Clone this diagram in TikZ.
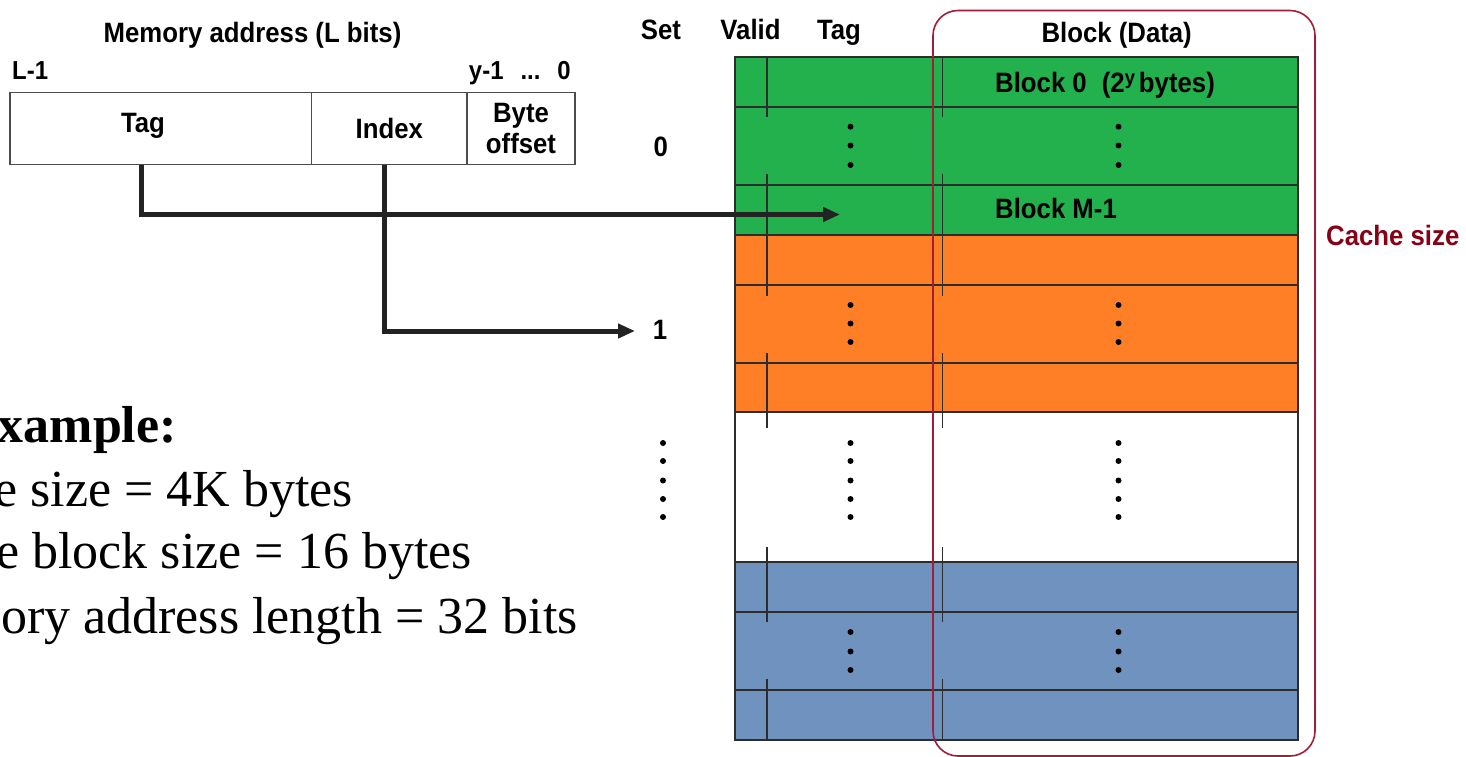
\documentclass[tikz,border=0pt]{standalone}
\usepackage{fontspec}
\setmainfont{Liberation Serif}
\newfontfamily\labfont[FakeStretch=0.92]{Liberation Sans}
\usetikzlibrary{arrows.meta}
\definecolor{pgreen}{RGB}{34,177,76}
\definecolor{porange}{RGB}{255,127,39}
\definecolor{pblue}{RGB}{112,146,190}
\definecolor{dred}{RGB}{136,0,21}
\definecolor{rline}{RGB}{160,30,55}
\definecolor{gridc}{RGB}{45,45,45}
\definecolor{arrc}{RGB}{35,35,35}
\begin{document}
\begin{tikzpicture}[x=1pt,y=-1pt,
  lab/.style={font=\labfont\bfseries\fontsize{28}{31}\selectfont, inner sep=0pt},
  smalllab/.style={font=\labfont\bfseries\fontsize{26}{28}\selectfont, inner sep=0pt},
  field/.style={draw=gray!60!black, line width=1.5pt, minimum height=72pt, inner sep=0pt, lab},
  gridline/.style={draw=gridc, line width=1.8pt},
  conn/.style={draw=arrc, line width=5pt, -{Triangle[length=17pt,width=14pt]}},
  cdot/.style={circle, fill=black, inner sep=0pt, minimum size=6pt},
  ex/.style={font=\fontsize{52}{60}\selectfont, inner sep=0pt, anchor=base east}
]
\useasboundingbox (0,0) rectangle (1466,757);

% ---------- memory address ----------
\node[lab, anchor=base] (mtitle) at (252.5,43) {Memory address (L bits)};
\node[smalllab, anchor=base west] (lhi) at (12,80) {L-1};
\node[smalllab, anchor=base east] (llo) at (571,80) {y-1\hspace{17pt}...\hspace{17pt}0};
\node[field, minimum width=301.5pt] (tagf) at (160.75,128.5) {};
\node[lab] (tagl) at (143,126) {Tag};
\node[field, minimum width=155.5pt] (idxf) at (389.25,128.5) {\raisebox{-2pt}{Index}};
\node[field, minimum width=108pt, align=center] (bytef) at (521,128.5) {Byte\\offset};

% ---------- cache ----------
\fill[pgreen]  (735,57)  rectangle (1298,235);
\fill[porange] (735,235) rectangle (1298,412);
\fill[white]   (735,412) rectangle (1298,562);
\fill[pblue]   (735,562) rectangle (1298,740);
\foreach \yy in {107,185,235,285,363,412,562,612,690}
  \draw[gridline] (735,\yy) -- (1298,\yy);
\foreach \xx in {767,942.5}
  \foreach \ya/\yb in {57/117,174/296,353/428,547/622,679/740}
    \draw[gridline] (\xx,\ya) -- (\xx,\yb);
\draw[gridline] (735,57) rectangle (1298,740);

% dots
\foreach \xx in {850.5,1118.5}{
  \foreach \yy in {126.7,145.5,165,305,323.5,342,443,461,480.5,499,517,632,651.5,670}
    \node[cdot] at (\xx,\yy) {};
}
\foreach \yy in {443,461,480.5,499,517}
  \node[cdot] at (663,\yy) {};

% headers
\node[lab, anchor=base] (hset) at (661,40) {Set};
\node[lab, anchor=base] (hvalid) at (750.5,40) {Valid};
\node[lab, anchor=base] (htag) at (839,40) {Tag};
\node[lab, anchor=base] (hblock) at (1116.7,43) {Block (Data)};
\node[lab] (set0) at (660.7,146.7) {0};
\node[lab] (set1) at (660,330) {1};
\node[lab, anchor=base west] (blk0) at (995,92.5) {Block 0\hspace{15pt}(2\raisebox{8pt}{\fontsize{20}{20}\selectfont y}\hspace{4pt}bytes)};
\node[lab, anchor=base west] (blkm) at (995,218.5) {Block M-1};

% cache size outline
\draw[rline, line width=1.6pt, rounded corners=25pt] (933,10.5) rectangle (1315,756);
\node[lab, anchor=base west, text=dred] (csize) at (1326,245) {Cache size};

% connectors
\coordinate (tagtip) at (840,214.5);
\coordinate (idxtip) at (635,331);
\draw[conn] ([xshift=-19.75pt]tagf.south) |- (tagtip);
\draw[conn] ([xshift=-5.25pt]idxf.south) |- (idxtip);

% example text
\node[ex, font=\bfseries\fontsize{52}{60}\selectfont] (ex1) at (177,442) {xample:};
\node[ex] (ex2) at (353,506) {e size = 4K bytes};
\node[ex] (ex3) at (472,568) {e block size = 16 bytes};
\node[ex] (ex4) at (578,633) {ory address length = 32 bits};
\end{tikzpicture}
\end{document}
